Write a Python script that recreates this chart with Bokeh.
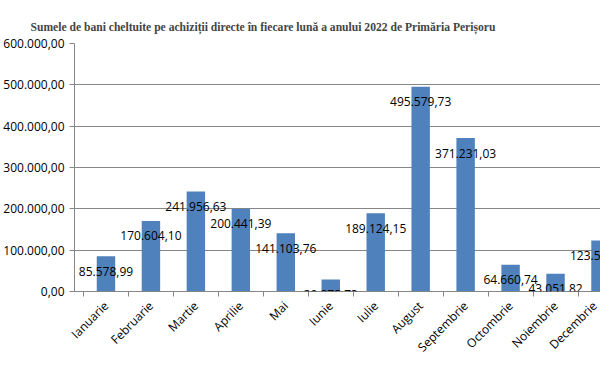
import math
from bokeh.plotting import figure
from bokeh.models import Range1d, FixedTicker, ColumnDataSource, Label
from bokeh.embed import file_html
from bokeh.resources import INLINE

title_text = "Sumele de bani cheltuite pe achiziții directe în fiecare lună  a anului 2022 de Primăria Perișoru"
months = ["Ianuarie", "Februarie", "Martie", "Aprilie", "Mai", "Iunie", "Iulie",
          "August", "Septembrie", "Octombrie", "Noiembrie", "Decembrie"]
amounts = [85578.99, 170604.10, 241956.63, 200441.39, 141103.76, 29275.73, 189124.15,
           495579.73, 371231.03, 64660.74, 43051.82, 123512.40]
y_ticks = [0, 100000, 200000, 300000, 400000, 500000, 600000]
y_tick_labels = ["0,00", "100.000,00", "200.000,00", "300.000,00",
                 "400.000,00", "500.000,00", "600.000,00"]


def ro_format(v):
    s = f"{v:,.2f}"
    return s.replace(",", " ").replace(".", ",").replace(" ", ".")


xs = list(range(len(months)))
source = ColumnDataSource(dict(x=xs, top=amounts))

GRID = "#868686"
FONT = "Open Sans"

p = figure(width=600, height=367, output_backend="svg", toolbar_location=None,
           x_range=Range1d(-0.7, 11.0), y_range=Range1d(0, 600000),
           title=title_text, min_border_top=43, min_border_bottom=76,
           min_border_right=0, min_border_left=0)

p.vbar(x="x", top="top", width=0.41, source=source, fill_color="#4F81BD", line_color=None)

for xi, v in zip(xs, amounts):
    p.add_layout(Label(x=xi, y=v, text=ro_format(v), text_align="center",
                       text_baseline="middle", y_offset=-15, text_font=FONT,
                       text_font_size="12px", text_color="black"))

p.title.text_font = "Liberation Serif"
p.title.text_font_style = "bold"
p.title.text_font_size = "11.6px"
p.title.align = "left"
p.title.offset = -44
p.title.standoff = 20

p.yaxis.ticker = FixedTicker(ticks=y_ticks)
p.yaxis.major_label_overrides = dict(zip(y_ticks, y_tick_labels))
p.yaxis.major_label_text_font = FONT
p.yaxis.major_label_text_font_size = "12px"
p.yaxis.major_label_text_color = "black"
p.yaxis.axis_line_color = GRID
p.yaxis.major_tick_line_color = GRID
p.yaxis.major_tick_out = 5
p.yaxis.major_tick_in = 0
p.yaxis.minor_tick_line_color = None
p.yaxis.major_label_standoff = 5

p.xaxis.ticker = FixedTicker(ticks=xs, minor_ticks=[i - 0.5 for i in range(len(months) + 1)])
p.xaxis.major_label_overrides = dict(zip(xs, months))
p.xaxis.major_label_orientation = math.pi / 4
p.xaxis.major_label_text_font = FONT
p.xaxis.major_label_text_font_size = "12px"
p.xaxis.major_label_text_color = "black"
p.xaxis.axis_line_color = GRID
p.xaxis.major_tick_line_color = None
p.xaxis.minor_tick_line_color = GRID
p.xaxis.minor_tick_out = 5
p.xaxis.minor_tick_in = 0
p.xaxis.major_label_standoff = 6

p.xgrid.visible = False
p.ygrid.grid_line_color = GRID
p.outline_line_color = None

open("out.html", "w").write(file_html(p, INLINE))
